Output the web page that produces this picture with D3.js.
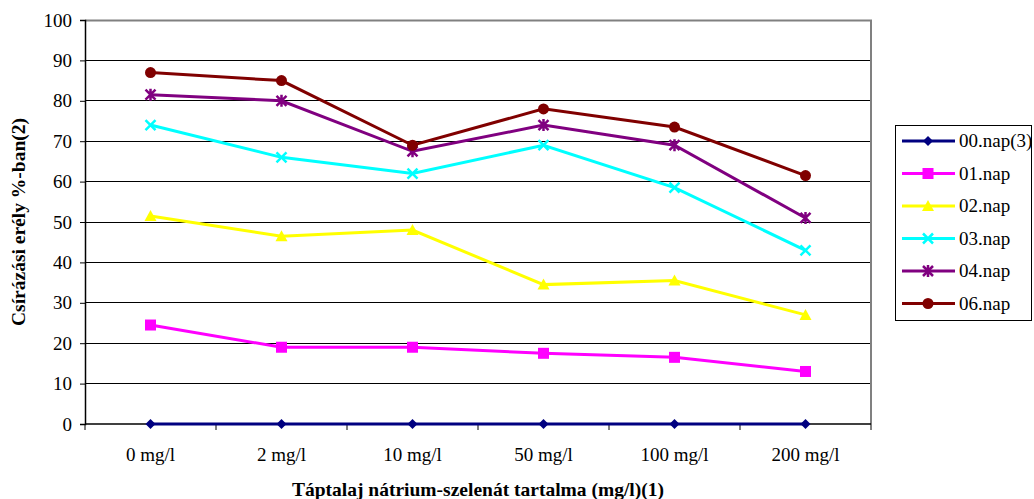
<!DOCTYPE html>
<html>
<head>
<meta charset="utf-8">
<script src="https://cdn.jsdelivr.net/npm/d3@7"></script>
<style>
  body { margin: 0; background: #fff; }
  text { font-family: "Liberation Serif", "Times New Roman", serif; }
</style>
</head>
<body>
<div id="viz"></div>
<script>
// categories on the x axis
const categories = ["0 mg/l", "2 mg/l", "10 mg/l", "50 mg/l", "100 mg/l", "200 mg/l"];
const yTicks = [0, 10, 20, 30, 40, 50, 60, 70, 80, 90, 100];

// series values
const nap00 = [0, 0, 0, 0, 0, 0];
const nap01 = [24.5, 19, 19, 17.5, 16.5, 13];
const nap02 = [51.5, 46.5, 48, 34.5, 35.5, 27];
const nap03 = [74, 66, 62, 69, 58.5, 43];
const nap04 = [81.5, 80, 67.5, 74, 69, 51];
const nap06 = [87, 85, 69, 78, 73.5, 61.5];

const seriesNames = ["00.nap(3)", "01.nap", "02.nap", "03.nap", "04.nap", "06.nap"];
const seriesValues = [nap00, nap01, nap02, nap03, nap04, nap06];
const seriesColors = ["#000080", "#ff00ff", "#ffff00", "#00ffff", "#800080", "#800000"];
const seriesMarkers = ["diamond", "square", "triangle", "x", "star", "circle"];

const W = 1034, H = 499;
const margin = {top: 20, right: 163, bottom: 75, left: 85};
const width = W - margin.left - margin.right,
      height = H - margin.top - margin.bottom;
const fs = 19;

const svg = d3.select("#viz").append("svg")
  .attr("width", W).attr("height", H);

const g = svg.append("g")
  .attr("transform", "translate(" + margin.left + "," + margin.top + ")");

const x = d3.scaleBand().domain(categories).range([0, width]);
const y = d3.scaleLinear().domain([0, 100]).range([height, 0]);

// gridlines
g.append("g")
  .selectAll("line")
  .data(yTicks.filter(t => t > 0 && t < 100))
  .join("line")
    .attr("x1", 0).attr("x2", width)
    .attr("y1", d => y(d)).attr("y2", d => y(d))
    .attr("stroke", "#000").attr("stroke-width", 1)
    .attr("shape-rendering", "crispEdges");

// plot border (grey, top and right)
g.append("path")
  .attr("d", `M0,0.5H${width}V${height}`)
  .attr("fill", "none")
  .attr("stroke", "#808080")
  .attr("stroke-width", 2);

// y axis
const yAxis = g.append("g")
  .call(d3.axisLeft(y).tickValues(yTicks).tickSize(5).tickPadding(8));
yAxis.select(".domain").attr("stroke", "#000").attr("stroke-width", 1.5);
yAxis.selectAll("text").attr("font-size", fs).attr("fill", "#000");

// x axis: ticks between categories
const xAxis = g.append("g").attr("transform", "translate(0," + height + ")");
xAxis.append("line")
  .attr("x1", 0).attr("x2", width)
  .attr("stroke", "#000").attr("stroke-width", 1.5);
xAxis.selectAll(".tk")
  .data(d3.range(categories.length + 1))
  .join("line")
    .attr("class", "tk")
    .attr("x1", i => i * x.bandwidth()).attr("x2", i => i * x.bandwidth())
    .attr("y1", 0).attr("y2", 6)
    .attr("stroke", "#000");
xAxis.selectAll("text")
  .data(categories)
  .join("text")
    .attr("x", d => x(d) + x.bandwidth() / 2)
    .attr("y", 37)
    .attr("text-anchor", "middle")
    .attr("font-size", fs)
    .text(d => d);

// axis titles
svg.append("text")
  .attr("x", margin.left + width / 2)
  .attr("y", 496)
  .attr("text-anchor", "middle")
  .attr("font-size", 19.5)
  .attr("font-weight", "bold")
  .text("Táptalaj nátrium-szelenát tartalma (mg/l)(1)");

svg.append("text")
  .attr("transform", "translate(25," + (margin.top + height / 2) + ") rotate(-90)")
  .attr("text-anchor", "middle")
  .attr("font-size", 19.5)
  .attr("font-weight", "bold")
  .text("Csírázási erély %-ban(2)");

// marker drawing
function drawMarker(sel, type, color) {
  if (type === "diamond") {
    sel.append("path").attr("d", "M0,-5L5,0L0,5L-5,0Z").attr("fill", color);
  } else if (type === "square") {
    sel.append("rect").attr("x", -5.5).attr("y", -5.5).attr("width", 11).attr("height", 11).attr("fill", color);
  } else if (type === "triangle") {
    sel.append("path").attr("d", "M0,-6L6,5L-6,5Z").attr("fill", color);
  } else if (type === "x") {
    sel.append("path").attr("d", "M-5,-5L5,5M-5,5L5,-5").attr("stroke", color).attr("stroke-width", 2.5);
  } else if (type === "star") {
    sel.append("path").attr("d", "M-5,-5L5,5M-5,5L5,-5M0,-6V6").attr("stroke", color).attr("stroke-width", 2.5);
  } else if (type === "circle") {
    sel.append("circle").attr("r", 5.5).attr("fill", color);
  }
}

const line = d3.line()
  .x((d, i) => x(categories[i]) + x.bandwidth() / 2)
  .y(d => y(d));

seriesValues.forEach((vals, s) => {
  g.append("path")
    .datum(vals)
    .attr("fill", "none")
    .attr("stroke", seriesColors[s])
    .attr("stroke-width", 3)
    .attr("d", line);
  vals.forEach((v, i) => {
    const m = g.append("g")
      .attr("transform", "translate(" + (x(categories[i]) + x.bandwidth() / 2) + "," + y(v) + ")");
    drawMarker(m, seriesMarkers[s], seriesColors[s]);
  });
});

// legend
const legend = svg.append("g").attr("transform", "translate(895,125)");
legend.append("rect")
  .attr("x", 0.5).attr("y", 0.5)
  .attr("width", 136).attr("height", 195)
  .attr("fill", "#fff").attr("stroke", "#000");
seriesNames.forEach((name, s) => {
  const ly = 16 + s * 32.5;
  const row = legend.append("g").attr("transform", "translate(0," + ly + ")");
  row.append("line")
    .attr("x1", 7).attr("x2", 60)
    .attr("stroke", seriesColors[s]).attr("stroke-width", 3);
  const m = row.append("g").attr("transform", "translate(33,0)");
  drawMarker(m, seriesMarkers[s], seriesColors[s]);
  row.append("text")
    .attr("x", 64).attr("y", 6)
    .attr("font-size", fs)
    .text(name);
});
</script>
</body>
</html>
